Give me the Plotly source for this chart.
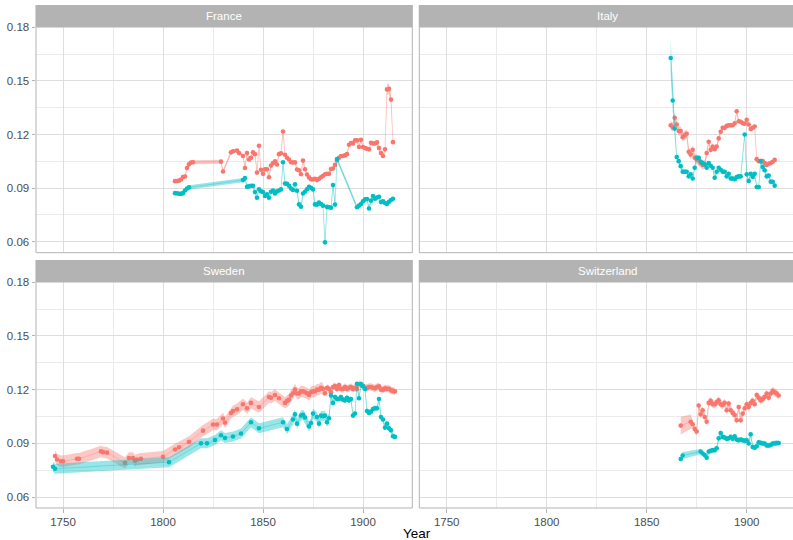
import plotly.graph_objects as go

# ---------------- data ----------------
fr_red_years = [1806, 1807, 1808, 1809, 1810, 1811, 1812, 1813, 1814, 1815,
                1829, 1830, 1834, 1835, 1837, 1838] + list(range(1840, 1916))
fr_red_vals = [0.0939, 0.0940, 0.0942, 0.0948, 0.0962, 0.0965, 0.1013, 0.1033, 0.1043, 0.1045,
               0.1048, 0.0993, 0.1100, 0.1106, 0.1110, 0.1096,
               0.1080, 0.1013, 0.1096, 0.1060, 0.1070, 0.1100, 0.1090, 0.0987, 0.1137, 0.1003,
               0.0980, 0.1006, 0.1006, 0.0961, 0.1026, 0.1040, 0.1050, 0.1032, 0.1090, 0.1095,
               0.1217, 0.1087, 0.1070, 0.1060, 0.1045, 0.1043, 0.1044, 0.1004, 0.1000, 0.0978,
               0.1054, 0.1006, 0.0976, 0.0960, 0.0950, 0.0948, 0.0952, 0.0945, 0.0952, 0.0961,
               0.0969, 0.0978, 0.0980, 0.0980, 0.1007, 0.1010, 0.1030, 0.1056, 0.1070, 0.1080,
               0.1080, 0.1083, 0.1090, 0.1143, 0.1152, 0.1150, 0.1167, 0.1167, 0.1130, 0.1170,
               0.1130, 0.1124, 0.1120, 0.1117, 0.1154, 0.1150, 0.1150, 0.1156, 0.1124, 0.1096,
               0.1080, 0.1117, 0.1452, 0.1455, 0.1395, 0.1157]
fr_teal_years = [1806, 1807, 1808, 1809, 1810, 1811, 1812, 1813] + list(range(1840, 1888)) + list(range(1897, 1916))
fr_teal_vals = [0.0872, 0.0871, 0.0869, 0.0868, 0.0872, 0.0887, 0.0898, 0.0904,
                0.0945, 0.0956, 0.0908, 0.0910, 0.0913, 0.0913, 0.0878, 0.0846, 0.0894, 0.0882,
                0.0878, 0.0856, 0.0865, 0.0846, 0.0880, 0.0887, 0.0870, 0.0882, 0.0887, 0.0893,
                0.1045, 0.0926, 0.0924, 0.0913, 0.0898, 0.0890, 0.0922, 0.0885, 0.0809, 0.0796,
                0.0870, 0.0880, 0.0894, 0.0908, 0.0902, 0.0893, 0.0809, 0.0808, 0.0819, 0.0811,
                0.0802, 0.0597, 0.0795, 0.0793, 0.0791, 0.0917, 0.0808, 0.1063,
                0.0793, 0.0802, 0.0811, 0.0826, 0.0837, 0.0839, 0.0786, 0.0830, 0.0856, 0.0841,
                0.0848, 0.0852, 0.0822, 0.0826, 0.0817, 0.0811, 0.0824, 0.0833, 0.0841]

it_red_years = list(range(1862, 1915))
it_red_vals = [0.1252, 0.1240, 0.1293, 0.1256, 0.1219, 0.1219, 0.1185, 0.1196, 0.1204, 0.1103,
               0.1088, 0.1114, 0.1070, 0.1062, 0.1055, 0.1040, 0.1029, 0.1033, 0.1096, 0.1159,
               0.1114, 0.1133, 0.1118, 0.1133, 0.1178, 0.1215, 0.1237, 0.1237, 0.1248, 0.1252,
               0.1252, 0.1252, 0.1263, 0.1330, 0.1274, 0.1271, 0.1263, 0.1260, 0.1282, 0.1256,
               0.1230, 0.1237, 0.1245, 0.1062, 0.1051, 0.1051, 0.1051, 0.1040, 0.1029, 0.1036,
               0.1040, 0.1047, 0.1058]
it_teal_years = list(range(1862, 1898)) + list(range(1899, 1915))
it_teal_vals = [0.1628, 0.1390, 0.1233, 0.1074, 0.1051, 0.1023, 0.0992, 0.0992, 0.0992, 0.0966,
                0.0977, 0.0954, 0.1014, 0.1070, 0.1070, 0.1047, 0.1040, 0.1032, 0.1014, 0.1040,
                0.1025, 0.1014, 0.0958, 0.0992, 0.1014, 0.1003, 0.0992, 0.0992, 0.0966, 0.0980,
                0.0954, 0.0954, 0.0950, 0.0962, 0.0966, 0.0966,
                0.1200, 0.0977, 0.0940, 0.0980, 0.0962, 0.0980, 0.0906, 0.0906, 0.1051, 0.1018,
                0.1000, 0.0966, 0.0970, 0.0936, 0.0936, 0.0914]

se_red_years = [1746, 1747, 1749, 1750, 1757, 1758, 1769, 1770, 1772, 1781, 1783, 1785, 1786, 1787,
                1789, 1800, 1806, 1808, 1813, 1820, 1825, 1827, 1830, 1831, 1834, 1835, 1837,
                1840, 1842, 1844, 1848, 1853, 1854, 1856, 1858] + list(range(1861, 1917))
se_red_vals = [0.0829, 0.0810, 0.0800, 0.0800, 0.0814, 0.0814, 0.0855, 0.0851, 0.0848, 0.0791,
               0.0818, 0.0818, 0.0803, 0.0810, 0.0814, 0.0825, 0.0866, 0.0878, 0.0908, 0.0971,
               0.1005, 0.1005, 0.1039, 0.1016, 0.1069, 0.1080, 0.1090, 0.1118, 0.1096, 0.1126,
               0.1103, 0.1159, 0.1155, 0.1170, 0.1152,
               0.1126, 0.1137, 0.1144, 0.1167, 0.1180, 0.1200, 0.1178, 0.1178, 0.1190, 0.1190,
               0.1185, 0.1180, 0.1170, 0.1185, 0.1190, 0.1190, 0.1200, 0.1200, 0.1210, 0.1204,
               0.1180, 0.1210, 0.1204, 0.1185, 0.1215, 0.1220, 0.1204, 0.1226, 0.1204, 0.1204,
               0.1215, 0.1204, 0.1210, 0.1215, 0.1204, 0.1210, 0.1204, 0.1230, 0.1230, 0.1220,
               0.1210, 0.1210, 0.1215, 0.1215, 0.1210, 0.1207, 0.1215, 0.1219, 0.1200, 0.1200,
               0.1207, 0.1204, 0.1204, 0.1196, 0.1193, 0.1190]
se_teal_years = [1745, 1746, 1803, 1819, 1822, 1826, 1829, 1831, 1835, 1839, 1844, 1848, 1860,
                 1862, 1865, 1866, 1867, 1869, 1870, 1871] + list(range(1873, 1876)) + list(range(1877, 1917))
se_teal_vals = [0.0769, 0.0758, 0.0795, 0.0900, 0.0900, 0.0919, 0.0945, 0.0930, 0.0938, 0.0955,
                0.1018, 0.0984, 0.1018, 0.0980, 0.1033, 0.1062, 0.1010, 0.1055, 0.1059, 0.1044,
                0.0995, 0.1014, 0.1066,
                0.1047, 0.1010, 0.1055, 0.1051, 0.1055, 0.1018, 0.1040, 0.1167, 0.1126, 0.1159,
                0.1148, 0.1148, 0.1159, 0.1144, 0.1140, 0.1155, 0.1140, 0.1148, 0.1055, 0.1066,
                0.1233, 0.1152, 0.1230, 0.1219, 0.1204, 0.1081, 0.1070, 0.1077, 0.1092, 0.1096,
                0.1096, 0.1148, 0.1047, 0.1033, 0.0988, 0.1010, 0.0984, 0.0973, 0.0940, 0.0936]

ch_red_years = [1867] + list(range(1872, 1917))
ch_red_vals = [0.0999, 0.1021, 0.1007, 0.0980, 0.0966, 0.1111, 0.1062, 0.1085, 0.1047, 0.1021,
               0.1126, 0.1137, 0.1118, 0.1118, 0.1129, 0.1140, 0.1118, 0.1114, 0.1126, 0.1085,
               0.1122, 0.1085, 0.1070, 0.1059, 0.1029, 0.1103, 0.1029, 0.1066, 0.1096, 0.1118,
               0.1103, 0.1126, 0.1137, 0.1118, 0.1170, 0.1155, 0.1140, 0.1148, 0.1159, 0.1178,
               0.1155, 0.1178, 0.1193, 0.1185, 0.1178, 0.1167]
ch_teal_years = [1867, 1868] + list(range(1877, 1917))
ch_teal_vals = [0.0813, 0.0832, 0.0854, 0.0843, 0.0835, 0.0820, 0.0854, 0.0858, 0.0862, 0.0862,
                0.0873, 0.0928, 0.0958, 0.0936, 0.0932, 0.0925, 0.0928, 0.0936, 0.0925, 0.0940,
                0.0921, 0.0917, 0.0921, 0.0917, 0.0914, 0.0917, 0.0899, 0.0951, 0.0880, 0.0876,
                0.0884, 0.0906, 0.0902, 0.0899, 0.0899, 0.0888, 0.0888, 0.0891, 0.0899, 0.0899,
                0.0902, 0.0902]

# ribbon half-widths: (first year, last year, half-width)
fr_red_hw = [(1700, 1911, 0.0011), (1912, 1914, 0.0030), (1915, 1999, 0.0012)]
fr_teal_hw = [(1700, 1999, 0.0012)]
it_red_hw = [(1700, 1880, 0.0025), (1881, 1999, 0.0012)]
it_teal_hw = [(1862, 1862, 0.0100), (1863, 1863, 0.0060), (1864, 1864, 0.0040), (1865, 1999, 0.0013)]
se_red_hw = [(1700, 1880, 0.0032), (1881, 1999, 0.0020)]
se_teal_hw = [(1700, 1883, 0.0028), (1884, 1999, 0.0016)]
ch_red_hw = [(1700, 1867, 0.0050), (1868, 1872, 0.0040), (1873, 1999, 0.0022)]
ch_teal_hw = [(1700, 1868, 0.0020), (1869, 1999, 0.0015)]

countries = ["France", "Italy", "Sweden", "Switzerland"]
series = {
    "France": [(fr_red_years, fr_red_vals, fr_red_hw), (fr_teal_years, fr_teal_vals, fr_teal_hw)],
    "Italy": [(it_red_years, it_red_vals, it_red_hw), (it_teal_years, it_teal_vals, it_teal_hw)],
    "Sweden": [(se_red_years, se_red_vals, se_red_hw), (se_teal_years, se_teal_vals, se_teal_hw)],
    "Switzerland": [(ch_red_years, ch_red_vals, ch_red_hw), (ch_teal_years, ch_teal_vals, ch_teal_hw)],
}
y_ticks = [0.06, 0.09, 0.12, 0.15, 0.18]
x_ticks = [1750, 1800, 1850, 1900]

# ---------------- styling ----------------
RED = (248, 118, 109)
TEAL = (0, 191, 196)
cols = [RED, TEAL]
FONT = "Liberation Sans, Arial, sans-serif"
GREY70 = "#B3B3B3"


def rgba(c, a):
    return "rgba(%d,%d,%d,%s)" % (c[0], c[1], c[2], a)


def hw_of(year, spec):
    for a, b, h in spec:
        if a <= year <= b:
            return h
    return spec[-1][2]


fig = go.Figure()
axn = {"France": ("x", "y"), "Italy": ("x2", "y2"), "Sweden": ("x3", "y3"), "Switzerland": ("x4", "y4")}

for cn in countries:
    xa, ya = axn[cn]
    for (yrs, vals, spec), c in zip(series[cn], cols):
        up = [v + hw_of(y, spec) for y, v in zip(yrs, vals)]
        lo = [v - hw_of(y, spec) for y, v in zip(yrs, vals)]
        fig.add_trace(go.Scatter(x=list(yrs) + list(yrs)[::-1], y=up + lo[::-1], fill="toself",
                                 fillcolor=rgba(c, 0.4), line=dict(width=0), mode="lines",
                                 hoverinfo="skip", showlegend=False, xaxis=xa, yaxis=ya))
        fig.add_trace(go.Scatter(x=yrs, y=vals, mode="lines", line=dict(color=rgba(c, 0.45), width=0.7),
                                 showlegend=False, xaxis=xa, yaxis=ya, hoverinfo="skip"))
        fig.add_trace(go.Scatter(x=yrs, y=vals, mode="markers", marker=dict(color=rgba(c, 1), size=4.6),
                                 showlegend=False, xaxis=xa, yaxis=ya))

W, H = 793, 540
ML, MT, MB = 36, 5, 32
PH = H - MT - MB
PW = W - ML


def py(p):
    return (H - MB - p) / PH


def px(p):
    return (p - ML) / PW


left_dom = [0, px(412.3)]
right_dom = [px(419.3), 1]
top_dom = [py(252.7), py(27)]
bot_dom = [0, py(282)]
yr = [0.0539, 0.1801]
xr_left = [1736.5, 1924.65]
xr_right = [1736.3, 1923.15]

common_x = dict(tickvals=x_ticks, zeroline=False, showline=False, gridcolor="#DEDEDE", gridwidth=0.9,
                minor=dict(tickmode="linear", tick0=1725, dtick=25, showgrid=True, gridcolor="#EBEBEB",
                           gridwidth=0.6, ticks=""),
                tickfont=dict(family=FONT, size=11.5, color="#4D4D4D"), tickcolor=GREY70, tickwidth=1,
                ticklen=3.5)
common_y = dict(tickvals=y_ticks, range=yr, zeroline=False, showline=False, gridcolor="#DEDEDE", gridwidth=0.9,
                minor=dict(tickmode="linear", tick0=0.045, dtick=0.015, showgrid=True, gridcolor="#EBEBEB",
                           gridwidth=0.6, ticks=""),
                tickformat=".2f", tickfont=dict(family=FONT, size=11.5, color="#4D4D4D"), tickcolor=GREY70,
                tickwidth=1, ticklen=3.5)

fig.update_layout(
    width=W, height=H, margin=dict(l=ML, r=0, t=MT, b=MB),
    paper_bgcolor="white", plot_bgcolor="white", showlegend=False,
    font=dict(family=FONT),
    xaxis=dict(domain=left_dom, anchor="y", range=xr_left, showticklabels=False, ticks="", **common_x),
    yaxis=dict(domain=top_dom, anchor="x", showticklabels=True, ticks="outside", **common_y),
    xaxis2=dict(domain=right_dom, anchor="y2", range=xr_right, showticklabels=False, ticks="", **common_x),
    yaxis2=dict(domain=top_dom, anchor="x2", showticklabels=False, ticks="", **common_y),
    xaxis3=dict(domain=left_dom, anchor="y3", range=xr_left, showticklabels=True, ticks="outside", **common_x),
    yaxis3=dict(domain=bot_dom, anchor="x3", showticklabels=True, ticks="outside", **common_y),
    xaxis4=dict(domain=right_dom, anchor="y4", range=xr_right, showticklabels=True, ticks="outside", **common_x),
    yaxis4=dict(domain=bot_dom, anchor="x4", showticklabels=False, ticks="", **common_y),
)

right_ext = (795.6 - 419.3) / (793 - 419.3)
shapes = []
annotations = []
strip_pos = {"France": (top_dom[1], 1.0), "Italy": (top_dom[1], 1.0),
             "Sweden": (bot_dom[1], py(260)), "Switzerland": (bot_dom[1], py(260))}
for cn in countries:
    xa, ya = axn[cn]
    x1 = right_ext if xa in ("x2", "x4") else 1
    shapes.append(dict(type="rect", xref=xa + " domain", yref=ya + " domain", x0=0, x1=x1, y0=0, y1=1,
                       line=dict(color=GREY70, width=1), fillcolor="rgba(0,0,0,0)", layer="above"))
    s0, s1 = strip_pos[cn]
    shapes.append(dict(type="rect", xref=xa + " domain", yref="paper", x0=-0.0015, x1=x1 + 0.0015, y0=s0, y1=s1,
                       line=dict(width=0), fillcolor=GREY70, layer="above"))
    annotations.append(dict(text=cn, xref=xa + " domain", yref="paper", x=x1 / 2, y=(s0 + s1) / 2,
                            showarrow=False, xanchor="center", yanchor="middle",
                            font=dict(family=FONT, size=11.5, color="white")))

annotations.append(dict(text="Year", xref="paper", yref="paper", x=px(416.5), y=py(533), showarrow=False,
                        xanchor="center", yanchor="middle", font=dict(family=FONT, size=13.5, color="black")))
fig.update_layout(shapes=shapes, annotations=annotations)

fig.write_html("out.html", config={"displayModeBar": False},
               post_script="document.body.style.margin='0';document.body.style.overflow='hidden';")
